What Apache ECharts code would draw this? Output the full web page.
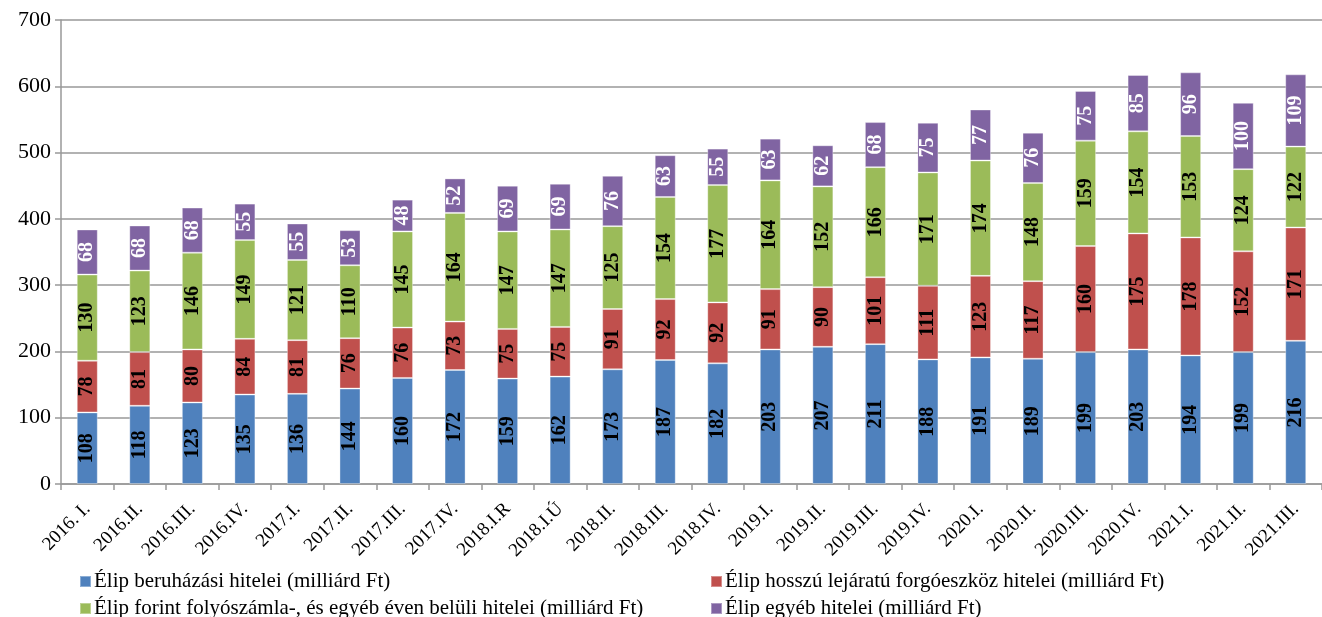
<!DOCTYPE html>
<html><head><meta charset="utf-8">
<script src="https://cdn.jsdelivr.net/npm/echarts@6/dist/echarts.min.js"></script>
<style>html,body{margin:0;padding:0;background:#fff}#c{width:1322px;height:617px}</style>
</head><body><div id="c"></div>
<script>
const categories = ["2016. I.","2016.II.","2016.III.","2016.IV.","2017.I.","2017.II.","2017.III.","2017.IV.","2018.I.R","2018.I.Ú","2018.II.","2018.III.","2018.IV.","2019.I.","2019.II.","2019.III.","2019.IV.","2020.I.","2020.II.","2020.III.","2020.IV.","2021.I.","2021.II.","2021.III."];
const beruhazasi = [108,118,123,135,136,144,160,172,159,162,173,187,182,203,207,211,188,191,189,199,203,194,199,216];
const forgoeszkoz = [78,81,80,84,81,76,76,73,75,75,91,92,92,91,90,101,111,123,117,160,175,178,152,171];
const folyoszamla = [130,123,146,149,121,110,145,164,147,147,125,154,177,164,152,166,171,174,148,159,154,153,124,122];
const egyeb = [68,68,68,55,55,53,48,52,69,69,76,63,55,63,62,68,75,77,76,75,85,96,100,109];
const seriesNames = ["Élip beruházási hitelei (milliárd Ft)","Élip hosszú lejáratú forgóeszköz hitelei (milliárd Ft)","Élip forint folyószámla-, és egyéb éven belüli hitelei (milliárd Ft)","Élip egyéb hitelei (milliárd Ft)"];
const colors = ["#4F81BD","#C0504D","#9BBB59","#8064A2"];
const labelColors = ["#000","#000","#000","#fff"];
const font = "'Liberation Serif','Times New Roman',serif";
const datasets = [beruhazasi, forgoeszkoz, folyoszamla, egyeb];

const chart = echarts.init(document.getElementById('c'));
const legendPos = [[74,566],[705,566],[74,593],[705,593]];
chart.setOption({
  animation:false,
  grid:{left:61,right:0,top:20,bottom:133},
  legend: seriesNames.map((n,i)=>({data:[n],left:legendPos[i][0],top:legendPos[i][1],itemWidth:11,itemHeight:11,icon:'rect',itemGap:4,textStyle:{fontFamily:font,fontSize:21,color:'#000',padding:[0,0,0,-2]}})),
  xAxis:{type:'category',data:categories,
    axisLine:{lineStyle:{color:'#999',width:1.5}},
    axisTick:{show:true,length:6,lineStyle:{color:'#999',width:1.5}},
    axisLabel:{rotate:45,fontFamily:font,fontSize:19,color:'#000',margin:22,interval:0}},
  yAxis:{type:'value',min:0,max:700,interval:100,
    axisLine:{show:true,lineStyle:{color:'#999',width:1.5}},
    axisTick:{show:true,length:6,lineStyle:{color:'#999',width:1.5}},
    splitLine:{lineStyle:{color:'#999',width:1.5}},
    axisLabel:{fontFamily:font,fontSize:22,color:'#000',margin:10}},
  series: datasets.map((d,i)=>({name:seriesNames[i],type:'bar',stack:'a',data:d,barWidth:'40%',
    itemStyle:{color:colors[i],borderColor:'rgba(255,255,255,0.35)',borderWidth:1},
    label:{show:true,position:'inside',rotate:90,fontFamily:font,fontWeight:'bold',fontSize:20,color:labelColors[i]}}))
});
</script></body></html>
